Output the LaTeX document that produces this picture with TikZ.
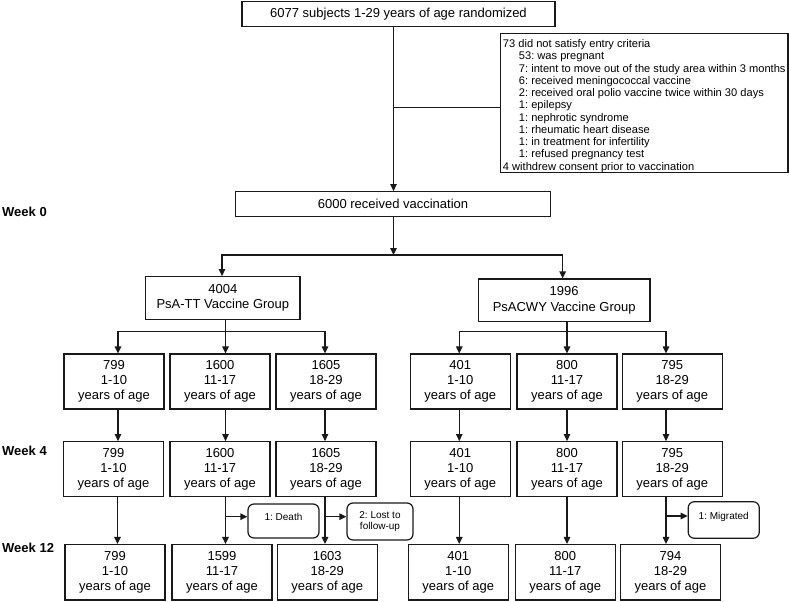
\documentclass[tikz,border=0pt]{standalone}
\usepackage{fontspec}
\setmainfont{Liberation Sans}
\usetikzlibrary{arrows.meta,calc}
\definecolor{linec}{RGB}{25,25,25}
\frenchspacing
\begin{document}
\frenchspacing
\begin{tikzpicture}[x=1pt,y=-1pt,
  box/.style={draw=linec, line width=1.2pt, fill=white, inner sep=0pt, align=center, font=\fontsize{13}{15.3}\selectfont},
  agebox/.style={box, minimum width=100pt, minimum height=55pt},
  sidebox/.style={draw=linec, line width=1.2pt, fill=white, rounded corners=6pt, inner sep=0pt, align=center, font=\fontsize{10}{11.7}\selectfont},
  conn/.style={draw=linec, line width=1.2pt},
  arr/.style={conn, -{Triangle[length=7pt,width=6.5pt]}},
  weeklbl/.style={anchor=west, inner sep=0pt, font=\bfseries\fontsize{13}{15}\selectfont}]
\fill[white] (0,0) rectangle (790,602);
\useasboundingbox (0,0) rectangle (790,602);

% top part
\node[box, minimum width=313pt, minimum height=24.3pt] (top) at (398.5,14) {6077 subjects 1-29 years of age randomized};
\node[box, minimum width=287.5pt, minimum height=139.4pt, inner xsep=2.5pt, align=left, font=\fontsize{11.1}{11.25}\selectfont] (excl) at (644.25,103) {\rule{0pt}{14pt}73 did not satisfy entry criteria\\[1pt]
\hspace*{16pt}53: was pregnant\\[1pt]
\hspace*{16pt}7: intent to move out of the study area within 3 months\\[1pt]
\hspace*{16pt}6: received meningococcal vaccine\\[1pt]
\hspace*{16pt}2: received oral polio vaccine twice within 30 days\\[1pt]
\hspace*{16pt}1: epilepsy\\[1pt]
\hspace*{16pt}1: nephrotic syndrome\\[1pt]
\hspace*{16pt}1: rheumatic heart disease\\[1pt]
\hspace*{16pt}1: in treatment for infertility\\[1pt]
\hspace*{16pt}1: refused pregnancy test\\[1pt]
4 withdrew consent prior to vaccination};
\node[box, minimum width=314.7pt, minimum height=25pt] (vacc) at (393,204.2) {6000 received vaccination};

\node[weeklbl] (w0) at (2,211.7) {Week 0};
\node[weeklbl] (w4) at (2,451) {Week 4};
\node[weeklbl] (w12) at (2,548) {Week 12};

% groups
\node[box, minimum width=154.3pt, minimum height=42.6pt] (g1) at (222.85,298) {4004\\PsA-TT Vaccine Group};
\node[box, minimum width=171.7pt, minimum height=42.7pt] (g2) at (564.15,300.35) {1996\\PsACWY Vaccine Group};

% row 1
\node[agebox] (r1c1) at (114,381.5) {799\\1-10\\years of age};
\node[agebox] (r1c2) at (220,381.5) {1600\\11-17\\years of age};
\node[agebox] (r1c3) at (326,381.5) {1605\\18-29\\years of age};
\node[agebox] (r1c4) at (460.25,381.5) {401\\1-10\\years of age};
\node[agebox] (r1c5) at (567,381.5) {800\\11-17\\years of age};
\node[agebox] (r1c6) at (672.25,381.5) {795\\18-29\\years of age};
% row 2
\node[agebox] (r2c1) at (113.5,469.2) {799\\1-10\\years of age};
\node[agebox] (r2c2) at (220,469.2) {1600\\11-17\\years of age};
\node[agebox] (r2c3) at (326,469.2) {1605\\18-29\\years of age};
\node[agebox] (r2c4) at (460.25,469.2) {401\\1-10\\years of age};
\node[agebox] (r2c5) at (567,469.2) {800\\11-17\\years of age};
\node[agebox] (r2c6) at (672.25,469.2) {795\\18-29\\years of age};
% row 3
\node[agebox, minimum height=55.5pt] (r3c1) at (115,572.25) {799\\1-10\\years of age};
\node[agebox, minimum height=55.5pt] (r3c2) at (222,572.25) {1599\\11-17\\years of age};
\node[agebox, minimum height=55.5pt] (r3c3) at (327.25,572.25) {1603\\18-29\\years of age};
\node[agebox, minimum height=55.5pt] (r3c4) at (458.25,572.25) {401\\1-10\\years of age};
\node[agebox, minimum height=55.5pt] (r3c5) at (565.25,572.25) {800\\11-17\\years of age};
\node[agebox, minimum height=55.5pt] (r3c6) at (670.5,572.25) {794\\18-29\\years of age};

% side boxes
\node[sidebox, minimum width=71pt, minimum height=34pt, text height=7.2pt, text depth=8pt] (death) at (283.5,521) {1: Death};
\node[sidebox, minimum width=66pt, minimum height=37pt] (lost) at (380,521.5) {2: Lost to\\follow-up};
\node[sidebox, minimum width=71pt, minimum height=36.5pt, text height=7.2pt, text depth=8pt] (migr) at (723.75,520) {1: Migrated};

% connectors top
\draw[arr] ([xshift=-5pt]top.south) -- ([xshift=-5pt]top.south |- vacc.north);
\coordinate (e0) at (393.5,107.5);
\draw[conn] (e0) -- (e0 -| excl.west);
\coordinate (b0) at (393.5,255);
\draw[arr] ([xshift=0.5pt]vacc.south) -- (b0);
\draw[arr] (b0) -| ([xshift=-0.85pt]g1.north);
\draw[arr] (b0) -| ([xshift=-1.5pt]g2.north);

% group branches
\coordinate (b1) at (225.5,331.7);
\draw[arr] ([xshift=2.65pt]g1.south) -- ([xshift=5.5pt]r1c2.north);
\draw[arr] (b1) -| ([xshift=4pt]r1c1.north);
\draw[arr] (b1) -| ([xshift=-1pt]r1c3.north);
\coordinate (b2) at (567,331.7);
\draw[arr] ([xshift=2.85pt]g2.south) -- (r1c5.north);
\draw[arr] (b2) -| ([xshift=-1pt]r1c4.north);
\draw[arr] (b2) -| ([xshift=-6.25pt]r1c6.north);

% row1 -> row2
\draw[arr] ([xshift=4pt]r1c1.south) -- ([xshift=4pt]r1c1.south |- r2c1.north);
\draw[arr] ([xshift=5.5pt]r1c2.south) -- ([xshift=5.5pt]r1c2.south |- r2c2.north);
\draw[arr] ([xshift=-1pt]r1c3.south) -- ([xshift=-1pt]r1c3.south |- r2c3.north);
\draw[arr] ([xshift=-1pt]r1c4.south) -- ([xshift=-1pt]r1c4.south |- r2c4.north);
\draw[arr] (r1c5.south) -- (r2c5.north);
\draw[arr] ([xshift=-6.25pt]r1c6.south) -- ([xshift=-6.25pt]r1c6.south |- r2c6.north);

% row2 -> row3
\draw[arr] ([xshift=4pt]r2c1.south) -- ([xshift=4pt]r2c1.south |- r3c1.north);
\draw[arr] ([xshift=5.5pt]r2c2.south) -- ([xshift=5.5pt]r2c2.south |- r3c2.north);
\draw[arr] ([xshift=-1pt]r2c3.south) -- ([xshift=-1pt]r2c3.south |- r3c3.north);
\draw[arr] ([xshift=-1pt]r2c4.south) -- ([xshift=-1pt]r2c4.south |- r3c4.north);
\draw[arr] (r2c5.south) -- (r2c5.south |- r3c5.north);
\draw[arr] ([xshift=-6.25pt]r2c6.south) -- ([xshift=-6.25pt]r2c6.south |- r3c6.north);

% side exits
\coordinate (d0) at (225.5,516.7);
\draw[arr] (d0) -- (d0 -| death.west);
\coordinate (l0) at (325,516.7);
\draw[arr] (l0) -- (l0 -| lost.west);
\coordinate (m0) at (666,516);
\draw[arr] (m0) -- (m0 -| migr.west);
\end{tikzpicture}
\end{document}
